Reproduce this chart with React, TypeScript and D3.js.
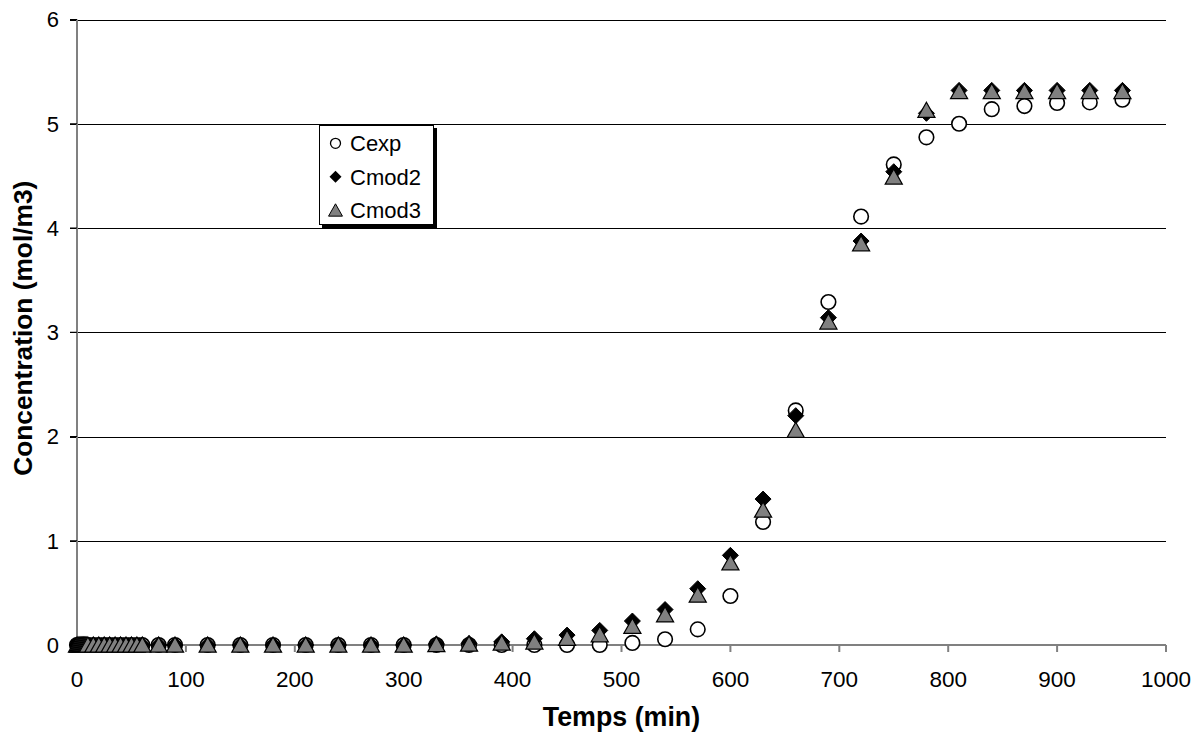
import React from "react";
import * as d3 from "d3";

const times: number[] = [
  0, 1, 2, 3, 4, 5, 6, 7, 8, 9, 10, 15, 20, 25, 30, 35, 40, 45, 50, 55, 60, 75, 90,
  120, 150, 180, 210, 240, 270, 300, 330, 360, 390, 420, 450, 480, 510, 540, 570,
  600, 630, 660, 690, 720, 750, 780, 810, 840, 870, 900, 930, 960,
];

const lateCexp: number[] = [
  0, 0, 0, 0, 0, 0, 0.02, 0.055, 0.15, 0.47, 1.18, 2.25, 3.29, 4.11, 4.61, 4.87, 5.0,
  5.14, 5.17, 5.2, 5.205, 5.23,
];
const lateCmod2: number[] = [
  0.01, 0.015, 0.03, 0.06, 0.095, 0.14, 0.23, 0.34, 0.54, 0.86, 1.4, 2.2, 3.14, 3.875,
  4.54, 5.1, 5.32, 5.32, 5.32, 5.32, 5.32, 5.32,
];
const lateCmod3: number[] = [
  0.005, 0.01, 0.02, 0.03, 0.065, 0.1, 0.18, 0.29, 0.48, 0.79, 1.295, 2.06, 3.1, 3.85,
  4.49, 5.13, 5.31, 5.31, 5.31, 5.31, 5.31, 5.31,
];
// times 0..300 are all ~0 for every series
const earlyCount = times.length - lateCexp.length;
const zeros = (n: number) => Array.from({ length: n }, () => 0);
const cexp = [...zeros(earlyCount), ...lateCexp];
const cmod2 = [...zeros(earlyCount), ...lateCmod2];
const cmod3 = [...zeros(earlyCount), ...lateCmod3];

const xTicks = [0, 100, 200, 300, 400, 500, 600, 700, 800, 900, 1000];
const yTicks = [0, 1, 2, 3, 4, 5, 6];
const legendLabels = ["Cexp", "Cmod2", "Cmod3"];

const W = 1204;
const H = 733;
const FONT = "'Liberation Sans', Arial, Helvetica, sans-serif";

const diamond = (s: number) => `M0,${-s}L${s},0L0,${s}L${-s},0Z`;
const triangle = (s: number) => `M0,${-s}L${s * 1.07},${s * 0.9}L${-s * 1.07},${s * 0.9}Z`;

export default function App() {
  const x = d3.scaleLinear().domain([0, 1000]).range([77, 1166]);
  const y = d3.scaleLinear().domain([0, 6]).range([645, 19.5]);
  const [x0, x1] = x.range();
  const [y0, y1] = y.range();

  const axisColor = "#808080";

  return (
    <svg
      width={W}
      height={H}
      style={{ position: "absolute", left: 0, top: 0, background: "#fff" }}
      fontFamily={FONT}
    >
      <rect x={0} y={0} width={W} height={H} fill="#fff" />
      {/* gridlines */}
      {yTicks
        .filter((t) => t > 0)
        .map((t) => (
          <line
            key={"g" + t}
            x1={x0 - 7}
            x2={x1}
            y1={Math.round(y(t)) + 0.5}
            y2={Math.round(y(t)) + 0.5}
            stroke="#000"
            strokeWidth={1}
          />
        ))}
      {/* y axis */}
      <line x1={x0} x2={x0} y1={y1} y2={y0} stroke={axisColor} strokeWidth={2} />
      {yTicks.map((t) => (
        <g key={"yt" + t}>
          <line x1={x0 - 7} x2={x0} y1={y(t)} y2={y(t)} stroke={t === 0 ? axisColor : "#000"} strokeWidth={t === 0 ? 2 : 1} />
          <text x={59} y={y(t)} dy="0.36em" textAnchor="end" fontSize={22} fill="#000">
            {t}
          </text>
        </g>
      ))}
      {/* x axis */}
      <line x1={x0} x2={x1} y1={y0} y2={y0} stroke={axisColor} strokeWidth={2} />
      {xTicks.map((t) => (
        <g key={"xt" + t}>
          <line x1={x(t)} x2={x(t)} y1={y0} y2={y0 + 7} stroke={axisColor} strokeWidth={2} />
          <text x={x(t)} y={687} textAnchor="middle" fontSize={22.5} fill="#000">
            {t}
          </text>
        </g>
      ))}
      {/* axis titles */}
      <text x={(x0 + x1) / 2} y={726} textAnchor="middle" fontSize={26.8} fontWeight="bold">
        Temps (min)
      </text>
      <text
        transform={`translate(32,${(y0 + y1) / 2 - 4}) rotate(-90)`}
        textAnchor="middle"
        fontSize={26.3}
        fontWeight="bold"
      >
        Concentration (mol/m3)
      </text>
      {/* series */}
      <g>
        {times.map((t, i) => (
          <circle
            key={"c" + i}
            cx={x(t)}
            cy={y(cexp[i])}
            r={7.3}
            fill="#fff"
            stroke="#000"
            strokeWidth={1.6}
          />
        ))}
      </g>
      <g>
        {times.map((t, i) => (
          <path
            key={"d" + i}
            transform={`translate(${x(t)},${y(cmod2[i])})`}
            d={diamond(8)}
            fill="#000"
            stroke="#000"
            strokeWidth={1}
          />
        ))}
      </g>
      <g>
        {times.map((t, i) => (
          <path
            key={"t" + i}
            transform={`translate(${x(t)},${y(cmod3[i])})`}
            d={triangle(8)}
            fill="#808080"
            stroke="#000"
            strokeWidth={1.2}
          />
        ))}
      </g>
      {/* legend */}
      <g>
        <rect x={322} y={128} width={115} height={100} fill="#000" />
        <rect x={319.5} y={125.5} width={114} height={99} fill="#fff" stroke="#000" strokeWidth={1} />
        {legendLabels.map((lab, i) => {
          const cy = 143.3 + i * 33.5;
          const cx = 335.5;
          return (
            <g key={lab}>
              {i === 0 && <circle cx={cx} cy={cy} r={5} fill="#fff" stroke="#000" strokeWidth={1.3} />}
              {i === 1 && <path transform={`translate(${cx},${cy})`} d={diamond(6)} fill="#000" />}
              {i === 2 && (
                <path transform={`translate(${cx},${cy})`} d={triangle(6.5)} fill="#808080" stroke="#000" strokeWidth={1} />
              )}
              <text x={350} y={cy} dy="0.36em" fontSize={22} fill="#000">
                {lab}
              </text>
            </g>
          );
        })}
      </g>
    </svg>
  );
}
